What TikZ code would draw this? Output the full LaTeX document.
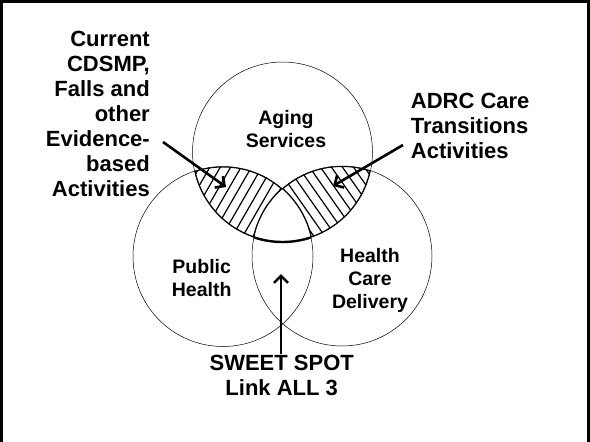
\documentclass[tikz,border=0pt]{standalone}
\usepackage{fontspec}
\setmainfont{Liberation Sans}
\usetikzlibrary{arrows.meta}
\tikzset{
  biglbl/.style={font=\bfseries\fontsize{22}{25}\selectfont, inner sep=0pt},
  setlbl/.style={font=\bfseries\fontsize{19.5}{23}\selectfont, inner sep=0pt, align=center},
  pointer/.style={line width=2.6pt, -{Straight Barb[length=7pt,width=14pt]}},
  venn/.style={line width=0.5pt},
  hatch/.style={line width=1.2pt},
}
\begin{document}
\begin{tikzpicture}[x=1pt,y=-1pt]
  \useasboundingbox (0,0) rectangle (590,442);
  \draw[line width=3pt] (1.5,442) -- (1.5,1.5) -- (588.5,1.5) -- (588.5,442);

  \coordinate (ca) at (282.5,152);
  \coordinate (cp) at (223,256.5);
  \coordinate (ch) at (342,256);

  % aging + public health overlap
  \begin{scope}[even odd rule]
    \clip (ca) circle [radius=90pt];
    \clip (cp) circle [radius=90pt];
    \clip (0,0) rectangle (590,442) (ch) circle [radius=90pt];
    \foreach \i in {-12,...,12}
      \draw[hatch] ({240+\i*9*0.866-150*0.5},{205+\i*9*0.5+150*0.866}) -- ({240+\i*9*0.866+150*0.5},{205+\i*9*0.5-150*0.866});
    \draw[line width=2pt] (ca) circle [radius=90pt];
    \draw[line width=2pt] (cp) circle [radius=90pt];
    \draw[line width=2pt] (ch) circle [radius=90pt];
  \end{scope}
  % aging + health care overlap
  \begin{scope}[even odd rule]
    \clip (ca) circle [radius=90pt];
    \clip (ch) circle [radius=90pt];
    \clip (0,0) rectangle (590,442) (cp) circle [radius=90pt];
    \foreach \i in {-12,...,12}
      \draw[hatch] ({325+\i*9*0.819-150*0.574},{205-\i*9*0.574-150*0.819}) -- ({325+\i*9*0.819+150*0.574},{205-\i*9*0.574+150*0.819});
    \draw[line width=2pt] (ca) circle [radius=90pt];
    \draw[line width=2pt] (cp) circle [radius=90pt];
    \draw[line width=2pt] (ch) circle [radius=90pt];
  \end{scope}
  \begin{scope}
    \clip (cp) circle [radius=90pt];
    \clip (ch) circle [radius=90pt];
    \draw[line width=2.4pt] (ca) circle [radius=90pt];
  \end{scope}

  \draw[venn] (ca) circle [radius=90pt];
  \draw[venn] (cp) circle [radius=90pt];
  \draw[venn] (ch) circle [radius=90pt];

  \node[setlbl] (aging) at (286,129.5) {Aging\\Services};
  \node[setlbl] (public) at (201.7,277.7) {Public\\Health};
  \node[setlbl] (care) at (370,280) {Health\\Care\\Delivery};
  \node[biglbl, align=right, anchor=east] (cdsmp) at (150,114) {Current\\CDSMP,\\Falls and\\other\\Evidence-\\based\\Activities};
  \node[biglbl, align=left, anchor=west] (adrc) at (410.7,126) {ADRC Care\\Transitions\\Activities};
  \node[biglbl, align=center] (spot) at (281.7,375) {SWEET SPOT\\Link ALL 3};

  \coordinate (evid) at (163,142);
  \coordinate (tipl) at (226,187);
  \coordinate (trans) at (403,145);
  \coordinate (tipr) at (333,186);
  \coordinate (tipm) at (281,274);

  \draw[pointer] (evid) -- (tipl);
  \draw[pointer] (trans) -- (tipr);
  \draw[pointer] (spot.north -| tipm) -- (tipm);
\end{tikzpicture}
\end{document}
